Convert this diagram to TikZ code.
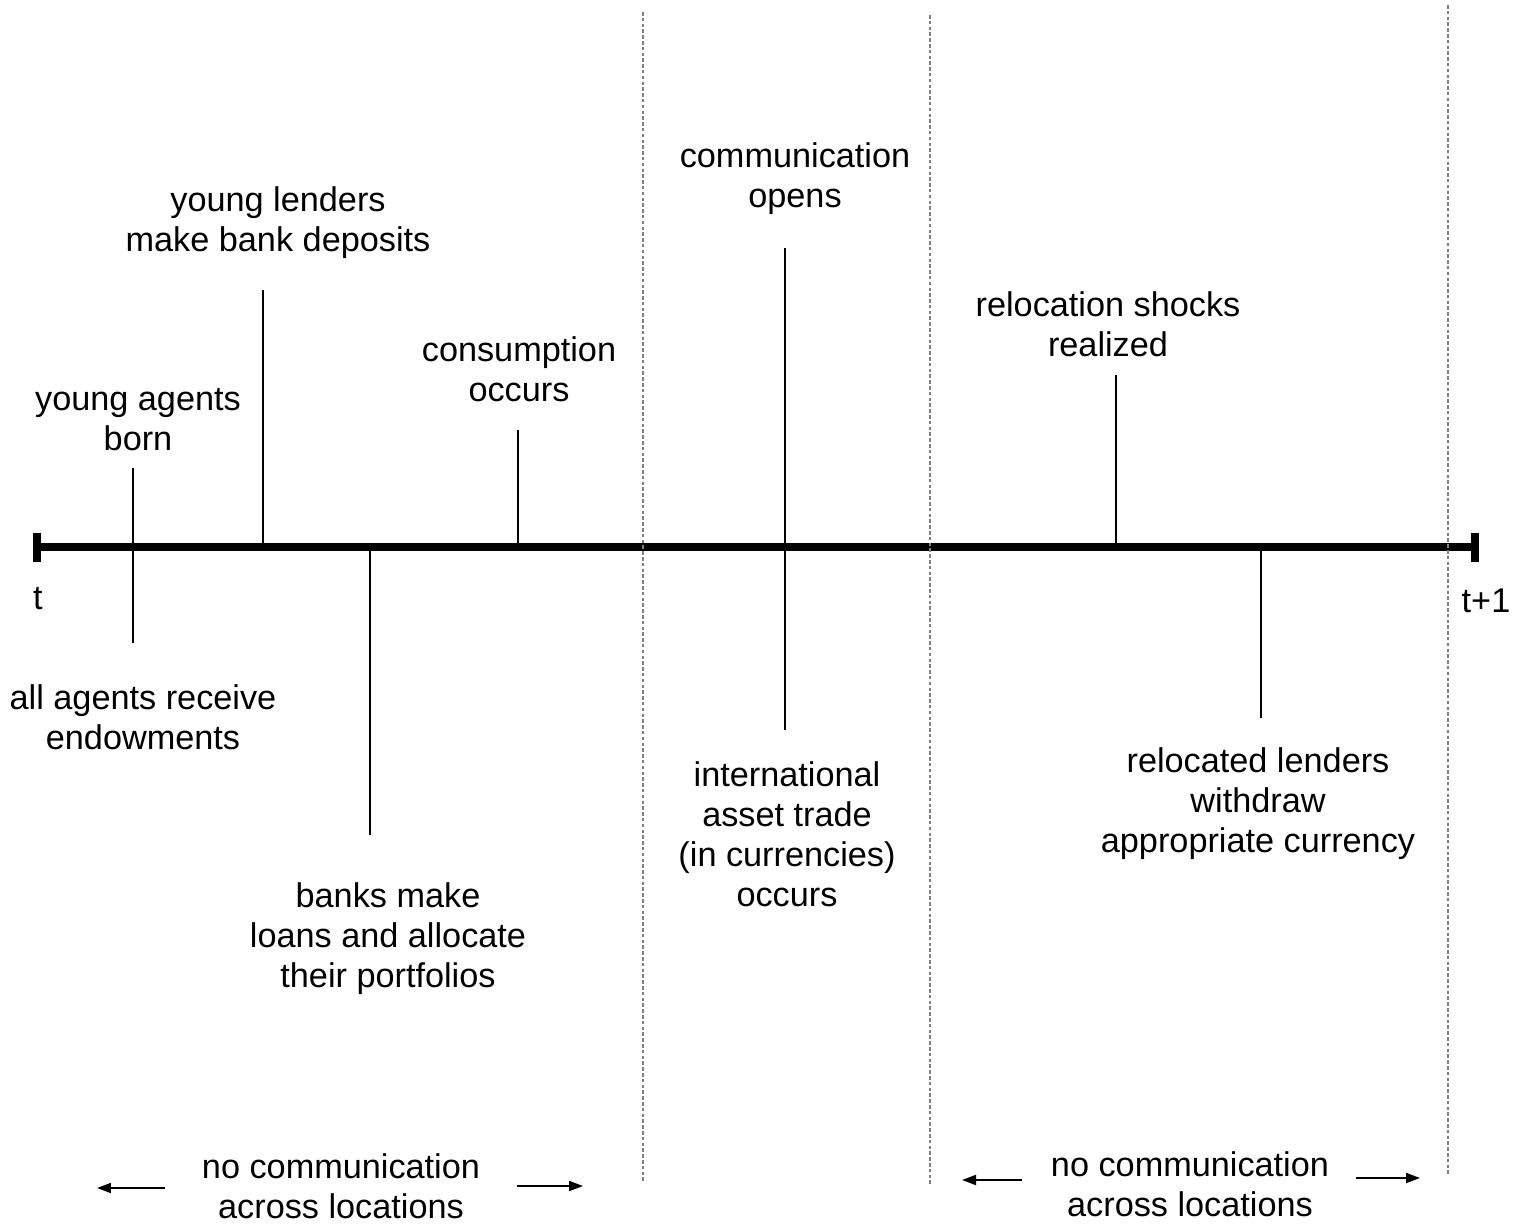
\documentclass[tikz,border=0pt]{standalone}
\usepackage{fontspec}
\setmainfont{Liberation Sans}
\usetikzlibrary{arrows.meta}
\begin{document}
\begin{tikzpicture}[x=0.02cm,y=-0.02cm,inner sep=0pt,outer sep=0pt,
lbl/.style={align=center,font=\fontsize{19.5}{22.7}\selectfont,yshift=-0.06cm},
tick/.style={line width=1.1pt},
divider/.style={line width=0.6pt,gray,dash pattern=on 2pt off 1.3pt},
flow/.style={line width=1.1pt,-{Triangle[length=0.28cm,width=0.2cm]}}]
\useasboundingbox (0,0) rectangle (1526,1224);

% time axis
\coordinate (start) at (37,547);
\coordinate (stop) at (1475,547);
\draw[line width=4pt] (start) -- (stop);
\draw[line width=4pt] (37,533) -- (37,562);
\draw[line width=4pt] (1475,533) -- (1475,562);
\draw (38,596) node[lbl] (t0) {t};
\draw (1486,598) node[lbl] (t1) {t+1};

% phase dividers
\draw[divider] (643,12) -- (643,1183);
\draw[divider] (930,15) -- (930,1185);
\draw[divider] (1448,5) -- (1448,1175);

% events
\draw (138,417) node[lbl] (born) {young agents\\born};
\draw (143,714) node[lbl] (endow) {all agents receive\\endowments};
\coordinate (bornT) at (133,468);
\coordinate (endowT) at (133,643);
\draw[tick] (bornT) -- (endowT);

\draw (278,220) node[lbl] (deposits) {young lenders\\make bank deposits};
\coordinate (depositsT) at (263,290);
\coordinate (depositsB) at (263,547);
\draw[tick] (depositsT) -- (depositsB);

\draw (388,936) node[lbl] (banks) {banks make\\loans and allocate\\their portfolios};
\coordinate (banksT) at (370,547);
\coordinate (banksB) at (370,835);
\draw[tick] (banksT) -- (banksB);

\draw (519,366) node[lbl] (consume) {consumption\\occurs};
\coordinate (consumeT) at (518,430);
\coordinate (consumeB) at (518,547);
\draw[tick] (consumeT) -- (consumeB);

\draw (795,176) node[lbl] (opens) {communication\\opens};
\draw (787,831) node[lbl] (trade) {international\\asset trade\\(in currencies)\\occurs};
\coordinate (opensT) at (785,248);
\coordinate (tradeT) at (785,730);
\draw[tick] (opensT) -- (tradeT);

\draw (1108,321) node[lbl] (shocks) {relocation shocks\\realized};
\coordinate (shocksT) at (1116,375);
\coordinate (shocksB) at (1116,547);
\draw[tick] (shocksT) -- (shocksB);

\draw (1258,801) node[lbl] (withdraw) {relocated lenders\\withdraw\\appropriate currency};
\coordinate (withdrawT) at (1261,547);
\coordinate (withdrawB) at (1261,718);
\draw[tick] (withdrawT) -- (withdrawB);

% no communication
\draw (341,1183) node[lbl] (isoA) {no communication\\across locations};
\coordinate (isoAl) at (165,1188);
\coordinate (isoAl2) at (97,1188);
\coordinate (isoAr) at (517,1186);
\coordinate (isoAr2) at (583,1186);
\draw[flow] (isoAl) -- (isoAl2);
\draw[flow] (isoAr) -- (isoAr2);

\draw (1190,1181) node[lbl] (isoB) {no communication\\across locations};
\coordinate (isoBl) at (1022,1180);
\coordinate (isoBl2) at (962,1180);
\coordinate (isoBr) at (1356,1178);
\coordinate (isoBr2) at (1420,1178);
\draw[flow] (isoBl) -- (isoBl2);
\draw[flow] (isoBr) -- (isoBr2);
\end{tikzpicture}
\end{document}
